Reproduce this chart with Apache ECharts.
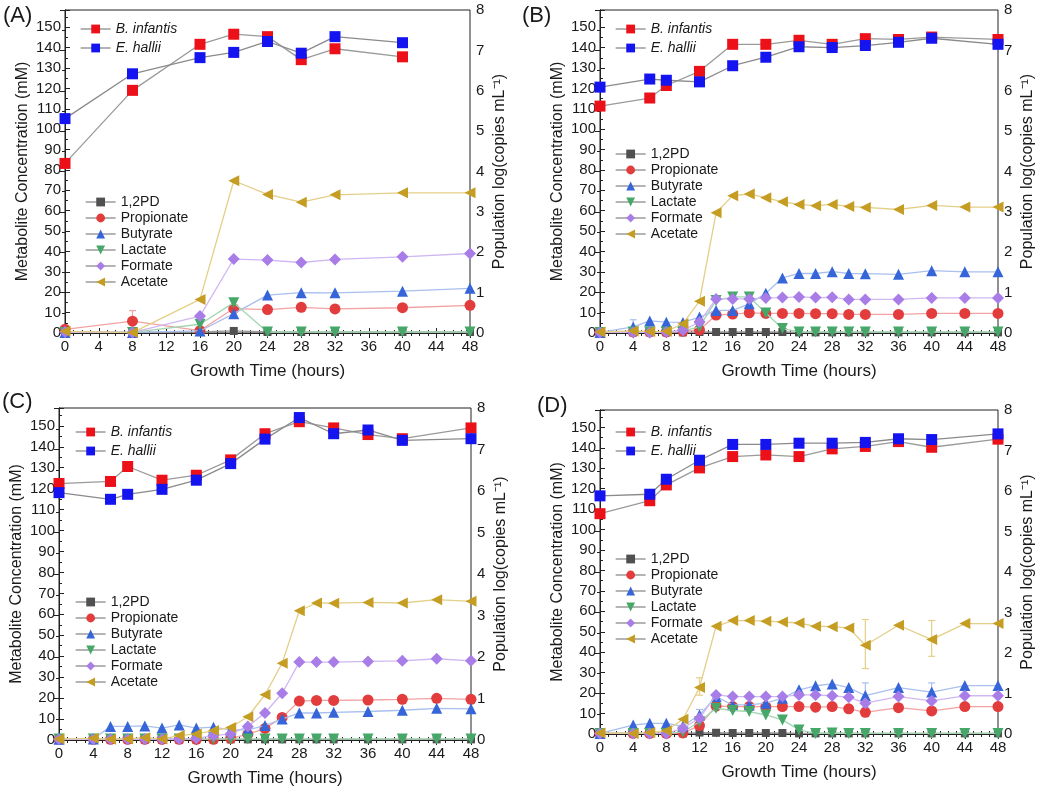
<!DOCTYPE html>
<html><head><meta charset="utf-8">
<script src="https://cdn.jsdelivr.net/npm/echarts@6/dist/echarts.min.js"></script>
<style>html,body{margin:0;padding:0;background:#fff}#c{width:1050px;height:791px}</style>
</head><body><div id="c"></div>
<script>
// ---------- DATA ----------
const panelLabels = ['(A)', '(B)', '(C)', '(D)'];
const xTicks = [0, 4, 8, 12, 16, 20, 24, 28, 32, 36, 40, 44, 48];
const leftTicks = [0, 10, 20, 30, 40, 50, 60, 70, 80, 90, 100, 110, 120, 130, 140, 150];
const rightTicks = [0, 1, 2, 3, 4, 5, 6, 7, 8];
const metaboliteNames = ['1,2PD', 'Propionate', 'Butyrate', 'Lactate', 'Formate', 'Acetate'];
const populationNames = ['B. infantis', 'E. hallii'];

// Panel A
const timesA = [0, 8, 16, 20, 24, 28, 32, 40, 48];
const pdA = [0.5, 0.3, 0.5, 1, 0.5, 0.5, 0.5, 0.5, 0.5];
const propA = [1.8, 5.8, 1.2, 12, 11.5, 12.6, 11.8, 12.4, 13.6];
const butA = [0.3, 0.3, 1, 9.5, 18.6, 19.8, 19.7, 20.5, 21.9];
const lacA = [0.3, 0.3, 4.3, 14.9, 0.5, 0.5, 0.5, 0.5, 0.5];
const forA = [0.5, 0.3, 8.3, 36.3, 35.8, 34.6, 36.1, 37.4, 39];
const aceA = [0.8, 0.2, 16.5, 74.7, 68, 64.2, 67.8, 68.8, 68.8];
const popTimesA = [0, 8, 16, 20, 24, 28, 32, 40];
const binfA = [4.20, 6.01, 7.15, 7.40, 7.34, 6.77, 7.04, 6.84];
const ehalA = [5.31, 6.42, 6.82, 6.95, 7.22, 6.93, 7.34, 7.19];

// Panels B, C, D share sampling times
const timesBCD = [0, 4, 6, 8, 10, 12, 14, 16, 18, 20, 22, 24, 26, 28, 30, 32, 36, 40, 44, 48];
const popTimesBCD = [0, 6, 8, 12, 16, 20, 24, 28, 32, 36, 40, 48];

// Panel B
const pdB = [0.3, 0.3, 0.3, 0.3, 0.3, 0.5, 0.5, 0.5, 0.5, 0.5, 0.5, 0.3, 0.3, 0.3, 0.3, 0.3, 0.3, 0.3, 0.3, 0.3];
const propB = [0.3, 0.5, 0.5, 0.5, 0.8, 1.5, 8.8, 9.3, 9.9, 9.6, 9.6, 9.6, 9.5, 9.5, 9.1, 9.1, 9.1, 9.6, 9.6, 9.6];
const butB = [0.3, 3.0, 5.9, 5.3, 5.2, 7.8, 11.1, 11.1, 14.3, 19.5, 27, 29.2, 29.2, 30.1, 29.2, 29.1, 28.8, 30.6, 30, 30];
const lacB = [0.3, 0.5, 0.5, 0.5, 1, 3, 16, 17.7, 17.7, 9.8, 2.2, 0.5, 0.5, 0.5, 0.5, 0.5, 0.5, 0.5, 0.5, 0.5];
const forB = [0.3, 0.3, 0.3, 0.5, 1.3, 5.4, 16.7, 16.7, 16.7, 17.2, 17.4, 17.7, 17.4, 17.5, 16.5, 16.5, 16.5, 17.2, 17.2, 17.2];
const aceB = [0.5, 1, 0.7, 0.8, 4.6, 15.6, 59, 67.4, 68.2, 66.4, 64.4, 63.1, 62.5, 63.1, 62.1, 61.6, 60.6, 62.6, 61.8, 61.8];
const binfB = [5.62, 5.82, 6.13, 6.48, 7.15, 7.15, 7.25, 7.15, 7.29, 7.27, 7.33, 7.27];
const ehalB = [6.09, 6.29, 6.26, 6.22, 6.62, 6.83, 7.09, 7.07, 7.12, 7.20, 7.30, 7.15];

// Panel C
const pdC = [0.3, 0.3, 0.3, 0.3, 0.3, 0.3, 0.3, 0.3, 0.3, 0.3, 0.3, 0.3, 0.3, 0.3, 0.3, 0.3, 0.3, 0.3, 0.3, 0.3];
const propC = [0.3, 0.3, 0.3, 0.3, 0.3, 0.3, 0.3, 0.3, 0.3, 0.8, 2.7, 5.5, 10.8, 18.6, 18.9, 18.9, 19.1, 19.4, 19.9, 19.4];
const butC = [0.3, 0.5, 6.5, 6.5, 6.7, 5.7, 7.2, 5.7, 6.1, 4.8, 4.8, 6.9, 10, 12.9, 12.9, 13.2, 13.6, 14.2, 15.1, 14.9];
const lacC = [0.5, 0.5, 0.5, 0.5, 0.5, 0.5, 0.5, 0.5, 0.5, 0.5, 0.5, 0.5, 0.5, 0.5, 0.5, 0.5, 0.5, 0.5, 0.5, 0.5];
const forC = [0.3, 0.3, 0.3, 0.3, 0.3, 0.3, 0.5, 0.8, 2.1, 2.9, 6.5, 12.9, 22.3, 37.2, 37.2, 37.2, 37.5, 37.8, 38.8, 37.8];
const aceC = [0.5, 0.8, 0.3, 0.5, 1.1, 0.5, 2.1, 2.9, 4.5, 6, 11.1, 21.6, 36.7, 61.7, 65.4, 65.3, 65.7, 65.4, 67, 66.2];
const binfC = [6.18, 6.23, 6.59, 6.26, 6.38, 6.75, 7.38, 7.67, 7.52, 7.36, 7.26, 7.52];
const ehalC = [5.96, 5.80, 5.92, 6.04, 6.26, 6.66, 7.25, 7.77, 7.38, 7.47, 7.22, 7.26];

// Panel D
const pdD = [0.3, 0.3, 0.3, 0.3, 0.3, 0.7, 0.6, 0.5, 0.5, 0.5, 0.5, 0.3, 0.3, 0.3, 0.3, 0.3, 0.3, 0.3, 0.3, 0.3];
const propD = [0.3, 0.3, 0.3, 0.3, 0.5, 4.1, 13.7, 13.4, 13.4, 13.4, 13.4, 13.4, 13.1, 13.4, 12.3, 10.6, 12.9, 11.3, 13.4, 13.4];
const butD = [0.3, 4.4, 5.2, 5.2, 3.9, 9.3, 18.3, 14.2, 14.2, 15.1, 17.5, 21.6, 23.6, 24.5, 22.7, 18.8, 22.7, 20.5, 23.7, 23.7];
const lacD = [0.3, 0.3, 0.3, 0.3, 1, 6, 12.6, 11.5, 11, 9.3, 6.9, 2, 0.3, 0.5, 0.3, 0.3, 0.3, 0.3, 0.3, 0.3];
const forD = [0.3, 0.3, 0.3, 0.3, 2.8, 7.7, 19.1, 18.3, 18.3, 18.3, 18.3, 19.1, 19.1, 18.7, 18, 15.1, 18.3, 16.2, 18.7, 18.7];
const aceD = [0.5, 0.3, 0.7, 1.6, 7.2, 22.7, 52.7, 55.5, 55.5, 55.2, 54.8, 54.3, 52.7, 52.5, 51.9, 43.4, 53.2, 46.2, 54, 54];
const binfD = [5.44, 5.76, 6.15, 6.57, 6.85, 6.89, 6.85, 7.04, 7.10, 7.22, 7.08, 7.28];
const ehalD = [5.88, 5.92, 6.29, 6.76, 7.15, 7.15, 7.18, 7.18, 7.20, 7.29, 7.27, 7.41];

// Error bars: [time, low, high]
const errPropA = [[8, 1, 11]];
const errButB = [[4, 0.5, 6.5]];
const errAceD = [[12, 19, 27.5], [32, 32, 56], [40, 38, 55.5]];
const errButD = [[12, 6.5, 12], [32, 13, 25], [40, 17, 25]];

// ---------- STYLE ----------
const markerColors = {'1,2PD': '#505050', 'Propionate': '#e23c3c', 'Butyrate': '#3565d8', 'Lactate': '#45a868', 'Formate': '#a97de8', 'Acetate': '#c59d22', 'B. infantis': '#ec1018', 'E. hallii': '#1414f0'};
const lineColors = {'1,2PD': '#9a9a9a', 'Propionate': '#f2a2a2', 'Butyrate': '#a9bfee', 'Lactate': '#a2d6b2', 'Formate': '#cfb7f2', 'Acetate': '#e3cf88', 'B. infantis': '#9a9a9a', 'E. hallii': '#8a8a8a'};
const symbols = {'1,2PD': ['rect', 0, 8], 'Propionate': ['circle', 0, 11], 'Butyrate': ['triangle', 0, 11], 'Lactate': ['triangle', 180, 11], 'Formate': ['diamond', 0, 12], 'Acetate': ['triangle', 90, 11], 'B. infantis': ['rect', 0, 11], 'E. hallii': ['rect', 0, 11]};

const YMAX = 158.5;
const panels = [
  {grid: {left: 65, top: 10, width: 405, height: 323}, label: [3, 5], times: timesA, popTimes: popTimesA,
   met: [pdA, propA, butA, lacA, forA, aceA], pop: [binfA, ehalA],
   popLeg: [80, 22], metLeg: [85, 195], err: [[errPropA, 'Propionate']]},
  {grid: {left: 600, top: 10, width: 398, height: 323}, label: [522, 5], times: timesBCD, popTimes: popTimesBCD,
   met: [pdB, propB, butB, lacB, forB, aceB], pop: [binfB, ehalB],
   popLeg: [615, 22], metLeg: [615, 147], err: [[errButB, 'Butyrate']]},
  {grid: {left: 59, top: 408, width: 412, height: 332}, label: [2, 391], times: timesBCD, popTimes: popTimesBCD,
   met: [pdC, propC, butC, lacC, forC, aceC], pop: [binfC, ehalC],
   popLeg: [75, 425], metLeg: [75, 595], err: []},
  {grid: {left: 600, top: 410, width: 398, height: 324}, label: [537, 395], times: timesBCD, popTimes: popTimesBCD,
   met: [pdD, propD, butD, lacD, forD, aceD], pop: [binfD, ehalD],
   popLeg: [615, 425], metLeg: [615, 552], err: [[errAceD, 'Acetate'], [errButD, 'Butyrate']]}
];

const FONT = 'Liberation Sans, Arial, Helvetica, sans-serif';
const TXT = '#1a1a1a';
const grids = [], xAxes = [], yAxes = [], series = [], legends = [], graphics = [];

panels.forEach((p, i) => {
  grids.push(Object.assign({show: true, borderColor: '#222', borderWidth: 1, backgroundColor: 'transparent'}, p.grid));
  const tickStyle = {show: true, inside: true, length: 5, lineStyle: {color: '#222', width: 1}};
  const minorStyle = {show: true, length: 3, lineStyle: {color: '#222', width: 1}};
  const xBase = {type: 'value', gridIndex: i, min: 0, max: 48, interval: 4,
    axisLine: {show: true, lineStyle: {color: '#222', width: 1}}, axisTick: tickStyle,
    minorTick: Object.assign({splitNumber: 4}, minorStyle), splitLine: {show: false}, minorSplitLine: {show: false}};
  xAxes.push(Object.assign({}, xBase, {position: 'bottom',
    axisLabel: {show: true, fontSize: 15, color: TXT, fontFamily: FONT, margin: 6,
      formatter: v => xTicks.includes(v) ? String(v) : ''},
    name: 'Growth Time (hours)', nameLocation: 'middle', nameGap: 30,
    nameTextStyle: {fontSize: 17, color: TXT, fontFamily: FONT}}));
  xAxes.push(Object.assign({}, xBase, {position: 'top', axisLabel: {show: false}}));
  yAxes.push({type: 'value', gridIndex: i, position: 'left', min: 0, max: YMAX, interval: 10,
    axisLine: {show: true, lineStyle: {color: '#222', width: 1}}, axisTick: tickStyle,
    minorTick: Object.assign({splitNumber: 2}, minorStyle), splitLine: {show: false},
    axisLabel: {fontSize: 15, color: TXT, fontFamily: FONT, margin: 4,
      formatter: v => leftTicks.includes(v) ? String(v) : ''},
    name: 'Metabolite Concentration (mM)', nameLocation: 'middle', nameGap: 34,
    nameTextStyle: {fontSize: 16, color: TXT, fontFamily: FONT}});
  yAxes.push({type: 'value', gridIndex: i, position: 'right', min: 0, max: 8, interval: 1,
    axisLine: {show: true, lineStyle: {color: '#222', width: 1}}, axisTick: tickStyle,
    minorTick: Object.assign({splitNumber: 2}, minorStyle), splitLine: {show: false},
    axisLabel: {fontSize: 15, color: TXT, fontFamily: FONT, margin: 6,
      formatter: v => rightTicks.includes(v) ? String(v) : ''},
    name: 'Population log(copies mL⁻¹)', nameLocation: 'middle', nameGap: 22,
    nameTextStyle: {fontSize: 16, color: TXT, fontFamily: FONT}});

  const mk = (name, xs, ys, yIdx, z) => {
    const s = symbols[name];
    series.push({type: 'line', name: name, xAxisIndex: 2 * i, yAxisIndex: 2 * i + yIdx,
      data: xs.map((t, k) => [t, ys[k]]), symbol: s[0], symbolRotate: s[1], symbolSize: s[2],
      showSymbol: true, animation: false, z: z,
      lineStyle: {color: lineColors[name], width: 1.3},
      itemStyle: {color: markerColors[name], borderWidth: 0}});
  };
  metaboliteNames.forEach((n, k) => mk(n, p.times, p.met[k], 0, 3 + k * 0.01));
  populationNames.forEach((n, k) => mk(n, p.popTimes, p.pop[k], 1, 4));

  p.err.forEach(([arr, name]) => {
    const col = lineColors[name];
    series.push({type: 'custom', xAxisIndex: 2 * i, yAxisIndex: 2 * i, data: arr, animation: false, z: 2,
      renderItem: (params, api) => {
        const a = api.coord([api.value(0), api.value(1)]);
        const b = api.coord([api.value(0), api.value(2)]);
        const w = 3.5, st = {stroke: col, lineWidth: 1.2};
        return {type: 'group', children: [
          {type: 'line', shape: {x1: a[0], y1: a[1], x2: b[0], y2: b[1]}, style: st},
          {type: 'line', shape: {x1: a[0] - w, y1: a[1], x2: a[0] + w, y2: a[1]}, style: st},
          {type: 'line', shape: {x1: b[0] - w, y1: b[1], x2: b[0] + w, y2: b[1]}, style: st}]};
      }});
  });

  const legBase = {orient: 'vertical', itemWidth: 30, itemHeight: 11, selectedMode: false,
    lineStyle: {color: '#8c8c8c', width: 1.3}, padding: 0};
  legends.push(Object.assign({}, legBase, {left: p.popLeg[0], top: p.popLeg[1], data: populationNames, itemGap: 5,
    textStyle: {fontSize: 14, fontStyle: 'italic', color: TXT, fontFamily: FONT}}));
  legends.push(Object.assign({}, legBase, {left: p.metLeg[0], top: p.metLeg[1], data: metaboliteNames, itemGap: 2,
    textStyle: {fontSize: 14, color: TXT, fontFamily: FONT}}));

  graphics.push({type: 'text', left: p.label[0], top: p.label[1],
    style: {text: panelLabels[i], fontSize: 22, fill: TXT, fontFamily: FONT}});
});

const chart = echarts.init(document.getElementById('c'), null, {renderer: 'canvas'});
chart.setOption({animation: false, backgroundColor: '#fff', grid: grids, xAxis: xAxes, yAxis: yAxes,
  series: series, legend: legends, graphic: graphics});
</script></body></html>
